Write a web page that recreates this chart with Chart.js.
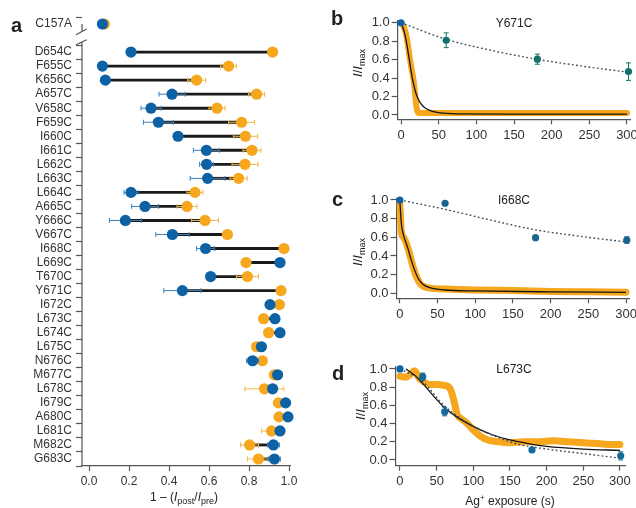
<!DOCTYPE html>
<html>
<head>
<meta charset="utf-8">
<script src="https://cdn.jsdelivr.net/npm/chart.js@4.4.1/dist/chart.umd.min.js"></script>
<style>
  body { margin: 0; width: 636px; height: 508px; overflow: hidden; position: relative; background: #fff;
         font-family: 'Liberation Sans', Arial, sans-serif; color: #222; }
  .box { position: absolute; }
  .lbl { position: absolute; line-height: 12px; font-size: 12px; white-space: nowrap; }
  .letter { position: absolute; font-size: 20px; font-weight: bold; line-height: 20px; }
  .ytitle { position: absolute; width: 60px; height: 16px; line-height: 16px; font-size: 13px; text-align: center;
            transform: rotate(-90deg); white-space: nowrap; }
  sub { font-size: 9px; vertical-align: -3px; }
  sup { font-size: 8px; vertical-align: 5px; }
</style>
</head>
<body>
<div class="box" style="left:0;top:0;width:310px;height:508px"><canvas id="chart-a"></canvas></div>
<div class="box" style="left:320px;top:0;width:330px;height:170px"><canvas id="chart-b"></canvas></div>
<div class="box" style="left:320px;top:175px;width:330px;height:160px"><canvas id="chart-c"></canvas></div>
<div class="box" style="left:320px;top:345px;width:330px;height:163px"><canvas id="chart-d"></canvas></div>

<div class="letter" style="left:11px;top:15px">a</div>
<div class="letter" style="left:331px;top:8px">b</div>
<div class="letter" style="left:332px;top:189px">c</div>
<div class="letter" style="left:332px;top:363px">d</div>

<div class="lbl" style="left:464px;width:100px;text-align:center;top:17px">Y671C</div>
<div class="lbl" style="left:464px;width:100px;text-align:center;top:194px">I668C</div>
<div class="lbl" style="left:464px;width:100px;text-align:center;top:363px">L673C</div>

<div class="ytitle" style="left:328px;top:55px"><i>I</i>/<i>I</i><sub>max</sub></div>
<div class="ytitle" style="left:328px;top:244px"><i>I</i>/<i>I</i><sub>max</sub></div>
<div class="ytitle" style="left:331px;top:398px"><i>I</i>/<i>I</i><sub>max</sub></div>

<div class="lbl" style="left:134px;width:100px;text-align:center;top:491px">1 &ndash; (<i>I</i><sub>post</sub>/<i>I</i><sub>pre</sub>)</div>
<div class="lbl" style="left:450px;width:120px;text-align:center;top:492px">Ag<sup>+</sup> exposure (s)</div>

<script>
// ---- panel a: fraction of current blocked, before (blue) and after (orange)
const mutants = ['C157A', '', 'D654C', 'F655C', 'K656C', 'A657C', 'V658C', 'F659C', 'I660C', 'I661C',
  'L662C', 'L663C', 'L664C', 'A665C', 'Y666C', 'V667C', 'I668C', 'L669C', 'T670C', 'Y671C',
  'I672C', 'L673C', 'L674C', 'L675C', 'N676C', 'M677C', 'L678C', 'I679C', 'A680C', 'L681C', 'M682C', 'G683C'];
const blueVals = [0.067, null, 0.21, 0.067, 0.082, 0.415, 0.31, 0.347, 0.445, 0.587,
  0.588, 0.593, 0.21, 0.28, 0.182, 0.417, 0.583, 0.955, 0.608, 0.467,
  0.905, 0.93, 0.955, 0.862, 0.818, 0.943, 0.918, 0.983, 0.995, 0.955, 0.922, 0.927];
const blueErr = [0, null, 0, 0, 0.015, 0.065, 0.05, 0.075, 0, 0.065,
  0.035, 0.087, 0.035, 0.067, 0.08, 0.083, 0.045, 0.015, 0, 0.093,
  0, 0, 0, 0, 0.03, 0, 0, 0, 0, 0, 0.03, 0.03];
const orangeVals = [0.077, null, 0.918, 0.698, 0.538, 0.838, 0.64, 0.763, 0.782, 0.815,
  0.78, 0.748, 0.53, 0.49, 0.58, 0.692, 0.975, 0.785, 0.792, 0.96,
  0.952, 0.873, 0.898, 0.838, 0.867, 0.927, 0.877, 0.947, 0.95, 0.913, 0.803, 0.847];
const orangeErr = [0, null, 0, 0.04, 0.045, 0.04, 0.04, 0.065, 0.06, 0.045,
  0.065, 0.043, 0.04, 0.05, 0.067, 0, 0, 0, 0.055, 0,
  0, 0, 0, 0, 0.02, 0, 0.097, 0, 0, 0.05, 0.045, 0.055];
const fracTicks = [0, 0.2, 0.4, 0.6, 0.8, 1.0];

// ---- panels b-d: I/Imax vs Ag+ exposure (s)
const timeTicks = [0, 50, 100, 150, 200, 250, 300];
const relTicks = [0, 0.2, 0.4, 0.6, 0.8, 1.0];

// Y671C
const bTraceT = [0, 4, 8, 11, 14, 17, 19, 21, 24, 30, 60, 120, 180, 240, 300];
const bTraceY = [1.0, 0.95, 0.82, 0.65, 0.5, 0.36, 0.2, 0.06, 0.02, 0.02, 0.02, 0.02, 0.02, 0.02, 0.02];
const bFitT = [0, 5, 8, 11, 15, 20, 25, 30, 38, 50, 75, 150, 300];
const bFitY = [1.0, 0.88, 0.75, 0.6, 0.4, 0.23, 0.14, 0.09, 0.05, 0.025, 0.012, 0.01, 0.01];
const bDecayT = [0, 60, 120, 180, 240, 300];
const bDecayY = [1.0, 0.82, 0.7, 0.605, 0.53, 0.465];
const bDotT = [0, 60, 181, 302];
const bDotY = [1.0, 0.81, 0.605, 0.47];
const bDotErr = [0, 0.08, 0.055, 0.095];

// I668C
const cTraceT = [0, 1, 2, 5, 8, 12, 16, 20, 25, 30, 40, 60, 100, 150, 200, 250, 300];
const cTraceY = [0.97, 0.8, 0.66, 0.6, 0.55, 0.45, 0.33, 0.22, 0.13, 0.08, 0.055, 0.045, 0.035, 0.03, 0.02, 0.015, 0.01];
const cFitT = [0, 2, 5, 10, 15, 20, 25, 30, 40, 60, 100, 200, 300];
const cFitY = [1.0, 0.75, 0.62, 0.5, 0.36, 0.24, 0.15, 0.1, 0.06, 0.035, 0.025, 0.015, 0.01];
const cDecayT = [0, 60, 120, 180, 240, 300];
const cDecayY = [1.0, 0.9, 0.785, 0.68, 0.61, 0.55];
const cDotT = [0, 60, 180, 301];
const cDotY = [1.0, 0.965, 0.596, 0.57];
const cDotErr = [0, 0, 0, 0.035];

// L673C
const dTraceT = [0, 8, 14, 20, 26, 32, 40, 50, 60, 68, 72, 75, 78, 84, 92, 100, 110, 120, 135, 150, 170, 190, 210, 230, 250, 270, 290, 300];
const dTraceY = [0.92, 0.91, 0.94, 0.98, 0.9, 0.86, 0.83, 0.83, 0.82, 0.79, 0.7, 0.6, 0.5, 0.45, 0.4, 0.33, 0.26, 0.22, 0.2, 0.19, 0.2, 0.2, 0.21, 0.2, 0.19, 0.18, 0.17, 0.17];
const dFitT = [8, 20, 30, 45, 60, 80, 100, 125, 150, 175, 200, 250, 300];
const dFitY = [1.0, 0.93, 0.85, 0.71, 0.58, 0.46, 0.37, 0.28, 0.22, 0.18, 0.15, 0.12, 0.105];
const dDecayT = [0, 30, 60, 100, 130, 160, 200, 250, 300];
const dDecayY = [1.0, 0.87, 0.6, 0.37, 0.26, 0.175, 0.12, 0.07, 0.02];
const dDotT = [0, 31, 61, 180, 301];
const dDotY = [1.0, 0.915, 0.53, 0.11, 0.045];
const dDotErr = [0, 0.04, 0.045, 0, 0.045];

const BLUE = '#0d62a6';
const TEAL = '#12706e';
const ORANGE = '#f6a71e';
const AXIS = '#555';
const TXT = '#333';

Chart.defaults.font.family = "'Liberation Sans', Arial, sans-serif";
Chart.defaults.color = TXT;

// error bars drawn right before their own dataset, so the dots sit on top
const errorBars = {
  id: 'errorBars',
  beforeDatasetDraw(chart, args) {
    const ds = chart.data.datasets[args.index];
    if (!ds.errors) return;
    const ctx = chart.ctx;
    const xs = chart.scales.x, ys = chart.scales.y;
    ctx.save();
    ctx.strokeStyle = ds.errorColor;
    ctx.lineWidth = 1;
    args.meta.data.forEach((pt, i) => {
      const e = ds.errors[i];
      if (!e) return;
      ctx.beginPath();
      if (ds.indexAxis === 'y') {
        const v = ds.data[i];
        const a = xs.getPixelForValue(v - e), b = xs.getPixelForValue(v + e);
        ctx.moveTo(a, pt.y); ctx.lineTo(b, pt.y);
        ctx.moveTo(a, pt.y - 2.5); ctx.lineTo(a, pt.y + 2.5);
        ctx.moveTo(b, pt.y - 2.5); ctx.lineTo(b, pt.y + 2.5);
      } else {
        const v = ds.data[i].y;
        const a = ys.getPixelForValue(v - e), b = ys.getPixelForValue(v + e);
        ctx.moveTo(pt.x, a); ctx.lineTo(pt.x, b);
        ctx.moveTo(pt.x - 2.5, a); ctx.lineTo(pt.x + 2.5, a);
        ctx.moveTo(pt.x - 2.5, b); ctx.lineTo(pt.x + 2.5, b);
      }
      ctx.stroke();
    });
    ctx.restore();
  }
};

// broken left axis of panel a (C157A sits above the break)
const axisBreak = {
  id: 'axisBreak',
  afterDraw(chart) {
    const ctx = chart.ctx;
    const x0 = chart.chartArea.left;
    const top = chart.scales.y.getPixelForValue(0);
    ctx.save();
    ctx.strokeStyle = AXIS;
    ctx.lineWidth = 1.2;
    ctx.beginPath();
    ctx.moveTo(x0, top); ctx.lineTo(x0, top + 7.5);
    ctx.moveTo(x0 - 6, top + 10.7); ctx.lineTo(x0 + 4.7, top + 5);
    ctx.moveTo(x0 - 6, top + 20.7); ctx.lineTo(x0 + 4.7, top + 15.7);
    ctx.moveTo(x0, top + 17.5); ctx.lineTo(x0, chart.chartArea.bottom);
    ctx.stroke();
    ctx.restore();
  }
};

new Chart(document.getElementById('chart-a'), {
  type: 'bar',
  data: {
    labels: mutants,
    datasets: [
      {
        type: 'line', indexAxis: 'y', data: blueVals, showLine: false,
        pointRadius: 5.6, pointHoverRadius: 5.6, pointBackgroundColor: BLUE, pointBorderWidth: 0,
        errors: blueErr, errorColor: '#3a80bb', clip: false, order: 0
      },
      {
        type: 'line', indexAxis: 'y', data: orangeVals, showLine: false,
        pointRadius: 5.6, pointHoverRadius: 5.6, pointBackgroundColor: ORANGE, pointBorderWidth: 0,
        errors: orangeErr, errorColor: '#f2b544', clip: false, order: 1
      },
      {
        type: 'bar', indexAxis: 'y',
        data: mutants.map((m, i) => blueVals[i] == null ? null : [Math.min(blueVals[i], orangeVals[i]), Math.max(blueVals[i], orangeVals[i])]),
        backgroundColor: '#1a1a1a', barThickness: 2.2, order: 2
      }
    ]
  },
  options: {
    indexAxis: 'y',
    responsive: true,
    maintainAspectRatio: false,
    animation: false,
    layout: { padding: { left: 0, right: 20, top: 17, bottom: 12 } },
    plugins: { legend: { display: false }, tooltip: { enabled: false } },
    scales: {
      y: {
        type: 'category', offset: true,
        afterFit(s) { s.width = 82; },
        border: { display: false },
        grid: { drawOnChartArea: false, tickLength: 6, tickWidth: 1.2,
                tickColor: c => c.index === 1 ? 'rgba(0,0,0,0)' : AXIS },
        ticks: { font: { size: 12 }, color: TXT, padding: 4, autoSkip: false }
      },
      x: {
        type: 'linear', min: -0.035, max: 1.005,
        afterFit(s) { s.height = 30; },
        afterBuildTicks(s) { s.ticks = fracTicks.map(v => ({ value: v })); },
        border: { color: AXIS, width: 1.2 },
        grid: { drawOnChartArea: false, tickLength: 5, color: AXIS, tickWidth: 1.2 },
        ticks: { font: { size: 12 }, color: TXT, padding: 3, callback: v => v.toFixed(1) }
      }
    }
  },
  plugins: [errorBars, axisBreak]
});

function pts(t, y) {
  return t.map((v, i) => ({ x: v, y: y[i] }));
}

function kineticsChart(id, p) {
  return new Chart(document.getElementById(id), {
    type: 'line',
    data: {
      datasets: [
        {
          data: pts(p.dotT, p.dotY), showLine: false,
          pointRadius: 3.6, pointHoverRadius: 3.6, pointBorderWidth: 0,
          pointBackgroundColor: c => c.dataIndex === 0 ? BLUE : p.dotColor,
          errors: p.dotErr, errorColor: p.dotColor, clip: false, order: 0
        },
        {
          data: pts(p.decayT, p.decayY), borderColor: '#3d4f5c', borderWidth: 1.4,
          borderDash: [1.8, 2.4], pointRadius: 0, cubicInterpolationMode: 'monotone', order: 1
        },
        {
          data: pts(p.fitT, p.fitY), borderColor: '#151515', borderWidth: 1.3,
          pointRadius: 0, cubicInterpolationMode: 'monotone', order: 2
        },
        {
          data: pts(p.traceT, p.traceY), borderColor: ORANGE, borderWidth: p.band,
          borderCapStyle: 'round', borderJoinStyle: 'round',
          pointRadius: 0, cubicInterpolationMode: 'monotone', order: 3
        }
      ]
    },
    options: {
      responsive: true,
      maintainAspectRatio: false,
      animation: false,
      layout: { padding: p.pad },
      plugins: { legend: { display: false }, tooltip: { enabled: false } },
      scales: {
        x: {
          type: 'linear', min: p.xMin, max: p.xMax,
          afterFit(s) { s.height = 25; },
          afterBuildTicks(s) { s.ticks = timeTicks.map(v => ({ value: v })); },
          border: { color: AXIS, width: 1.2 },
          grid: { drawOnChartArea: false, tickLength: 5, color: AXIS, tickWidth: 1.2 },
          ticks: { font: { size: 13 }, color: TXT, padding: 3 }
        },
        y: {
          type: 'linear', min: p.yMin, max: p.yMax,
          afterFit(s) { s.width = 60; },
          afterBuildTicks(s) { s.ticks = relTicks.map(v => ({ value: v })); },
          border: { color: AXIS, width: 1.2 },
          grid: { drawOnChartArea: false, tickLength: 6, color: AXIS, tickWidth: 1.2 },
          ticks: { font: { size: 13 }, color: TXT, padding: 2, callback: v => v.toFixed(1) }
        }
      }
    },
    plugins: [errorBars]
  });
}

kineticsChart('chart-b', {
  traceT: bTraceT, traceY: bTraceY, fitT: bFitT, fitY: bFitY,
  decayT: bDecayT, decayY: bDecayY, dotT: bDotT, dotY: bDotY, dotErr: bDotErr,
  dotColor: TEAL, band: 6,
  xMin: -4.4, xMax: 304, yMin: -0.047, yMax: 1.022,
  pad: { left: 17.7, right: 20, top: 20.7, bottom: 25.7 }
});

kineticsChart('chart-c', {
  traceT: cTraceT, traceY: cTraceY, fitT: cFitT, fitY: cFitY,
  decayT: cDecayT, decayY: cDecayY, dotT: cDotT, dotY: cDotY, dotErr: cDotErr,
  dotColor: '#17658f', band: 7,
  xMin: -4.4, xMax: 305, yMin: -0.054, yMax: 1.018,
  pad: { left: 16.5, right: 20.2, top: 23.3, bottom: 11.7 }
});

kineticsChart('chart-d', {
  traceT: dTraceT, traceY: dTraceY, fitT: dFitT, fitY: dFitY,
  decayT: dDecayT, decayY: dDecayY, dotT: dDotT, dotY: dDotY, dotErr: dDotErr,
  dotColor: '#176a98', band: 7,
  xMin: -6.1, xMax: 307, yMin: -0.063, yMax: 1.025,
  pad: { left: 15.5, right: 24.9, top: 21.7, bottom: 17.3 }
});
</script>
</body>
</html>
